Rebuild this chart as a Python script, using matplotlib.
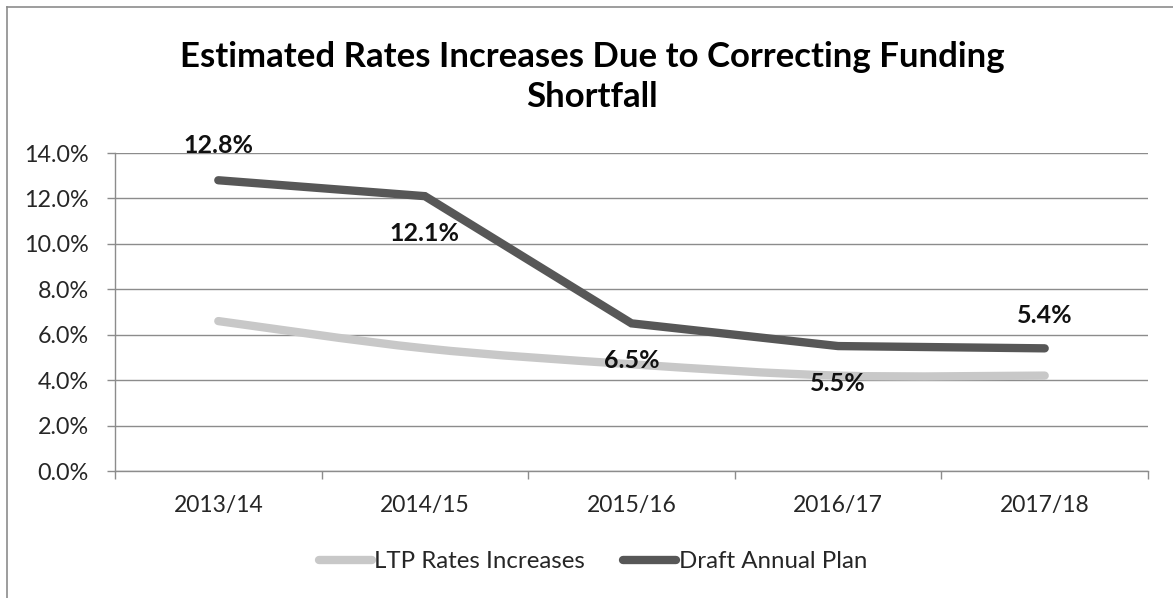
import matplotlib
matplotlib.use("Agg")
import matplotlib.pyplot as plt
from matplotlib.path import Path
from matplotlib.patches import PathPatch
from matplotlib.lines import Line2D
import numpy as np

categories = ["2013/14", "2014/15", "2015/16", "2016/17", "2017/18"]
ltp_rates = [6.6, 5.4, 4.7, 4.2, 4.2]
draft_plan = [12.8, 12.1, 6.5, 5.5, 5.4]
draft_labels = ["12.8%", "12.1%", "6.5%", "5.5%", "5.4%"]
yticks = [0, 2, 4, 6, 8, 10, 12, 14]

FONT = ["Lato", "DejaVu Sans"]
plt.rcParams['font.family'] = FONT

W, H = 1173, 598
fig = plt.figure(figsize=(W / 100, H / 100), dpi=100)
ax = fig.add_axes([115 / W, 1 - 471 / H, (1148 - 115) / W, (471 - 153) / H])

x = np.arange(len(categories))
light = "#c8c8c8"
dark = "#575757"

# smoothed line (Excel-style Bezier) for LTP series
def smooth_path(xs, ys, t=1 / 6):
    verts = [(xs[0], ys[0])]
    codes = [Path.MOVETO]
    n = len(xs)
    for i in range(n - 1):
        p0 = (xs[max(i - 1, 0)], ys[max(i - 1, 0)])
        p1 = (xs[i], ys[i])
        p2 = (xs[i + 1], ys[i + 1])
        p3 = (xs[min(i + 2, n - 1)], ys[min(i + 2, n - 1)])
        c1 = (p1[0] + (p2[0] - p0[0]) * t, p1[1] + (p2[1] - p0[1]) * t)
        c2 = (p2[0] - (p3[0] - p1[0]) * t, p2[1] - (p3[1] - p1[1]) * t)
        verts += [c1, c2, p2]
        codes += [Path.CURVE4] * 3
    return Path(verts, codes)

lw = 6
patch = PathPatch(smooth_path(x, ltp_rates), facecolor="none", edgecolor=light,
                  lw=lw, capstyle="round", joinstyle="round", zorder=3)
ax.add_patch(patch)
ax.plot(x, draft_plan, color=dark, lw=lw, solid_capstyle="round",
        solid_joinstyle="miter", zorder=4)

# data labels
offsets = [(0, 25), (0, -27), (0, -27), (0, -27), (0, 24)]
for xi, yi, lab, off in zip(x, draft_plan, draft_labels, offsets):
    ax.annotate(lab, (xi, yi), xytext=off, textcoords="offset points",
                ha="center", va="center", fontsize=18, fontweight="bold",
                color="#111111", zorder=5)

ax.set_xlim(-0.5, len(categories) - 0.5)
ax.set_ylim(0, 14)
ax.set_yticks(yticks)
ax.set_yticklabels([f"{v:.1f}%" for v in yticks])
ax.set_xticks(x)
ax.set_xticklabels(categories)
ax.set_xticks(np.arange(-0.5, len(categories)), minor=True)
ax.tick_params(axis="x", which="major", length=0, pad=17, labelsize=16.5,
               labelcolor="#262626")
ax.tick_params(axis="x", which="minor", length=6, width=1, color="#8c8c8c")
ax.tick_params(axis="y", length=6, width=1, color="#8c8c8c", pad=13,
               labelsize=16.8, labelcolor="#262626")
ax.grid(axis="y", color="#8c8c8c", lw=1)
ax.set_axisbelow(True)
for s in ["top", "right"]:
    ax.spines[s].set_visible(False)
for s in ["left", "bottom"]:
    ax.spines[s].set_color("#8c8c8c")
    ax.spines[s].set_linewidth(1)

fig.text(592 / W, 1 - 77 / H,
         "Estimated Rates Increases Due to Correcting Funding\nShortfall",
         ha="center", va="center", fontsize=25, fontweight="bold",
         color="#000000", linespacing=1.3)

handles = [Line2D([], [], color=light, lw=lw, solid_capstyle="round"),
           Line2D([], [], color=dark, lw=lw, solid_capstyle="round")]
fig.legend(handles, ["LTP Rates Increases", "Draft Annual Plan"],
           loc="center", bbox_to_anchor=(593 / W, 1 - 562 / H), ncol=2,
           frameon=False, handlelength=2.2, handletextpad=0.1,
           columnspacing=1.6, fontsize=17.3, labelcolor="#262626")

# outer chart border (left and top visible)
fig.add_artist(Line2D([7 / W, 7 / W], [0, 1 - 7 / H], transform=fig.transFigure,
                      color="#8c8c8c", lw=1.2))
fig.add_artist(Line2D([7 / W, 1], [1 - 7 / H, 1 - 7 / H], transform=fig.transFigure,
                      color="#8c8c8c", lw=1.2))

fig.savefig("out.png", dpi=100)
